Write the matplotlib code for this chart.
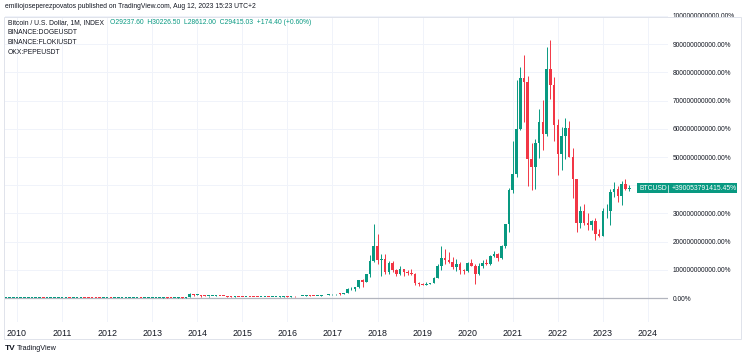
import matplotlib
matplotlib.use("Agg")
import matplotlib.pyplot as plt
from matplotlib.patches import Rectangle
import numpy as np

plt.rcParams['font.family'] = ['Liberation Sans', 'DejaVu Sans']

# ---------------- data (monthly BTC/USD INDEX, Oct 2009 .. Aug 2023) ----------------
start_year = 2009
start_month = 10
opens = [
    0.0000075, 0.0000075, 0.0008, 0.001, 0.001, 0.001, 0.003, 0.004, 0.005,
    0.05, 0.07, 0.06, 0.06, 0.19, 0.28,
    0.30, 0.52, 0.86, 0.78, 3.5, 8.74, 16.1, 13.4, 8.2, 5.1, 3.2, 3.0,
    4.7, 5.5, 4.9, 4.9, 5.0, 5.2, 6.7, 9.4, 10.2, 12.4, 11.2, 12.6,
    13.5, 20.4, 33.4, 93, 139, 129, 97, 106, 135, 133, 205, 1129,
    770, 830, 560, 445, 445, 630, 640, 585, 480, 385, 340, 378,
    320, 220, 255, 245, 236, 230, 263, 284, 230, 236, 315, 378,
    430, 370, 437, 416, 448, 530, 673, 624, 573, 608, 700, 745,
    963, 970, 1190, 1080, 1350, 2300, 2480, 2875, 4730, 4340, 6470, 10000,
    13850, 10100, 10300, 6900, 9240, 7490, 6390, 7730, 7030, 6630, 6370, 4040,
    3740, 3460, 3810, 4100, 5320, 8570, 10820, 10080, 9600, 8300, 9150, 7550,
    7190, 9350, 8540, 6410, 8630, 9450, 9140, 11350, 11650, 10780, 13800, 19700,
    28990, 33110, 45240, 58800, 57750, 37300, 35040, 41460, 47100, 43820, 61300, 57000,
    46300, 38480, 43190, 45540, 37700, 31800, 19950, 23300, 20050, 19430, 20500, 17170,
    16540, 23140, 23150, 28480, 29250, 27220, 30480, 29237.60,
]
highs = [
    0.0000075, 0.0008, 0.001, 0.001, 0.001, 0.003, 0.004, 0.005, 0.05,
    0.09, 0.07, 0.2, 0.2, 0.5, 0.3,
    0.95, 1.1, 0.95, 3.8, 8.7, 31.9, 16.1, 13.5, 8.9, 5.1, 3.5, 5.0,
    7.3, 6.2, 5.4, 5.4, 5.2, 6.7, 9.6, 16, 12.5, 12.9, 12.9, 13.9,
    21, 33.4, 95, 266, 140, 130, 110, 136, 146, 220, 1242, 1165,
    1000, 850, 720, 545, 630, 680, 650, 600, 500, 420, 460, 390,
    320, 265, 300, 260, 250, 265, 315, 285, 245, 335, 500, 470,
    460, 440, 440, 465, 550, 780, 700, 625, 630, 720, 760, 980,
    1160, 1200, 1300, 1350, 2760, 3000, 2920, 4750, 5000, 6470, 11400, 19800,
    17200, 11800, 11700, 9770, 9990, 7780, 8500, 7760, 7410, 7680, 6600, 4240,
    4100, 4200, 4120, 5640, 9090, 13880, 13200, 12330, 10950, 10370, 9510, 7750,
    9580, 10500, 9190, 9470, 10070, 10390, 11440, 12470, 12090, 14100, 19500, 29300,
    41950, 58350, 61780, 64900, 59500, 41330, 42400, 50500, 52900, 67000, 69000, 59100,
    47990, 45800, 48200, 47450, 40000, 31900, 24670, 25200, 22800, 20990, 21480, 18390,
    23950, 25250, 29190, 31000, 29840, 31390, 31800, 30226.50,
]
lows = [
    0.0000075, 0.0000075, 0.0008, 0.001, 0.001, 0.001, 0.003, 0.004, 0.005,
    0.05, 0.06, 0.06, 0.06, 0.19, 0.17,
    0.30, 0.8, 0.7, 0.56, 3.0, 7, 12.8, 6.2, 4.6, 2.0, 2.0, 2.8,
    4.7, 4.2, 4.6, 4.8, 4.9, 5.2, 6.5, 7.1, 10.2, 9.9, 10.4, 12.3,
    13.4, 19.1, 33, 50, 79, 88, 65, 101, 116, 103, 198, 455,
    770, 400, 440, 340, 430, 550, 570, 440, 370, 275, 315, 310,
    165, 210, 240, 215, 225, 215, 255, 195, 225, 235, 310, 350,
    350, 365, 400, 412, 440, 525, 605, 470, 570, 605, 680, 740,
    750, 920, 890, 1060, 1350, 2100, 1830, 2690, 2970, 4150, 5500, 9500,
    9000, 6000, 6500, 6430, 7030, 5760, 6070, 5880, 6150, 6200, 3600, 3130,
    3350, 3390, 3730, 4080, 5320, 7450, 9070, 9360, 7730, 7300, 6510, 6430,
    6850, 8450, 3860, 6150, 8100, 8830, 8900, 10960, 9880, 10380, 13240, 17600,
    28130, 32300, 45000, 47050, 30000, 28800, 29280, 37330, 39600, 43300, 53300, 42000,
    32900, 34300, 37200, 37700, 26700, 17600, 18780, 19600, 18150, 18200, 15480, 16260,
    16500, 21400, 19550, 26950, 25800, 24800, 28860, 28612.00,
]
closes = [
    0.0000075413, 0.0008, 0.001, 0.001, 0.001, 0.003, 0.004, 0.005, 0.05,
    0.07, 0.06, 0.06, 0.19, 0.28, 0.30,
    0.52, 0.86, 0.78, 3.5, 8.74, 16.1, 13.4, 8.2, 5.1, 3.2, 3.0, 4.7,
    5.5, 4.9, 4.9, 5.0, 5.2, 6.7, 9.4, 10.2, 12.4, 11.2, 12.6, 13.5,
    20.4, 33.4, 93, 139, 129, 97, 106, 135, 133, 205, 1129, 770,
    830, 560, 445, 445, 630, 640, 585, 480, 385, 340, 378, 320,
    220, 255, 245, 236, 230, 263, 284, 230, 236, 315, 378, 430,
    370, 437, 416, 448, 530, 673, 624, 573, 608, 700, 745, 963,
    970, 1190, 1080, 1350, 2300, 2480, 2875, 4730, 4340, 6470, 10000, 13850,
    10100, 10300, 6900, 9240, 7490, 6390, 7730, 7030, 6630, 6370, 4040, 3740,
    3460, 3810, 4100, 5320, 8570, 10820, 10080, 9600, 8300, 9150, 7550, 7190,
    9350, 8540, 6410, 8630, 9450, 9140, 11350, 11650, 10780, 13800, 19700, 28990,
    33110, 45240, 58800, 57750, 37300, 35040, 41460, 47100, 43820, 61300, 57000, 46300,
    38480, 43190, 45540, 37700, 31800, 19950, 23300, 20050, 19430, 20500, 17170, 16540,
    23140, 23150, 28480, 29250, 27220, 30480, 29240, 29415.03,
]
year_ticks = list(range(2010, 2025))
pct_ticks = [0, 1e11, 2e11, 3e11, 4e11, 5e11, 6e11, 7e11, 8e11, 9e11, 1e12]

header = "emiliojoseperezpovatos published on TradingView.com, Aug 12, 2023 15:23 UTC+2"
legend_title = "Bitcoin / U.S. Dollar, 1M, INDEX"
legend_ohlc = "O29237.60  H30226.50  L28612.00  C29415.03  +174.40 (+0.60%)"
other_symbols = ["BINANCE:DOGEUSDT", "BINANCE:FLOKIUSDT", "OKX:PEPEUSDT"]
last_label = "+390053791415.45%"

# ---------------- drawing ----------------
W, H = 745, 358
GREEN = '#089981'
RED = '#f23645'
TXT = '#131722'

def px(x, y):
    return x / W, 1 - y / H

fig = plt.figure(figsize=(W / 100, H / 100), dpi=100)
fig.patch.set_facecolor('white')
ax = fig.add_axes([5 / W, 1 - 322 / H, (668 - 5) / W, (322 - 16) / H])

base_price = closes[0]          # percentage scale is relative to the first bar's close
n = len(closes)
xs = np.array([start_year + (start_month - 1 + i) / 12 for i in range(n)])
o = (np.array(opens) / base_price - 1) * 100
h = (np.array(highs) / base_price - 1) * 100
l = (np.array(lows) / base_price - 1) * 100
c = (np.array(closes) / base_price - 1) * 100
up = c >= o
cols = np.where(up, GREEN, RED)

ax.vlines(xs, l, h, colors=cols, linewidth=0.7, zorder=3)
body_bottom = np.minimum(o, c)
body_h = np.maximum(np.abs(c - o), 0.03e11)
ax.bar(xs, body_h, bottom=body_bottom, width=0.058, color=cols,
       linewidth=0, zorder=4)

ax.axhline(0, color='#b2b5be', linewidth=0.9, zorder=2)

ax.set_xlim(2009.734, 2024.444)
ax.set_ylim(-0.851e11, 1.0e12)

ax.set_xticks(year_ticks)
ax.set_xticklabels([str(y) for y in year_ticks])
ax.set_yticks(pct_ticks)
ax.set_yticklabels([f"{v:.2f}%" for v in pct_ticks])
ax.yaxis.tick_right()
ax.tick_params(axis='y', length=0, pad=3.6, labelsize=4.8, colors=TXT)
ax.tick_params(axis='x', length=0, pad=5, labelsize=6.4, colors=TXT)
ax.grid(True, color='#f0f3fa', linewidth=0.7, zorder=0)
for s in ax.spines.values():
    s.set_visible(False)

# outer frame
x0, y0 = px(4, 339)
x1, y1 = px(741, 17)
fig.add_artist(Rectangle((x0, y0), x1 - x0, y1 - y0, transform=fig.transFigure,
                         fill=False, edgecolor='#e0e3eb', linewidth=0.7))

# header and legend
fig.text(*px(5, 7), header, fontsize=4.9, color=TXT, va='center', ha='left')
t1 = fig.text(*px(8, 23), legend_title, fontsize=4.9, color=TXT, va='center', ha='left')
fig.canvas.draw()
bb = t1.get_window_extent()
fig.text(bb.x1 / W + 6 / W, px(0, 23)[1], legend_ohlc, fontsize=4.9, color=GREEN,
         va='center', ha='left')
for i, s in enumerate(other_symbols):
    fig.text(*px(8, 33 + 10 * i), s, fontsize=4.9, color=TXT, va='center', ha='left')

# last price label
last_y = c[-1]
lab_y_fig = ax.transData.transform((0, last_y))[1] / H
bx0 = 637 / W
bx1 = 737 / W
bh = 10 / H
fig.add_artist(Rectangle((bx0, lab_y_fig - bh / 2), bx1 - bx0, bh, transform=fig.transFigure,
                         facecolor=GREEN, edgecolor='none', zorder=10))
fig.text(640 / W, lab_y_fig, "BTCUSD", fontsize=4.9, color='white', va='center',
         ha='left', zorder=11)
fig.add_artist(plt.Line2D([668 / W, 668 / W], [lab_y_fig - bh / 2 + 1.5 / H, lab_y_fig + bh / 2 - 1.5 / H],
                          transform=fig.transFigure, color='white', linewidth=0.5, zorder=11))
fig.text(672 / W, lab_y_fig, last_label, fontsize=4.9, color='white', va='center',
         ha='left', zorder=11)

# logo
fig.text(*px(5, 348), "TV", fontsize=6, fontweight='bold', color=TXT, va='center', ha='left')
fig.text(*px(17, 348), "TradingView", fontsize=5.2, color=TXT, va='center', ha='left')

fig.savefig('out.png', dpi=100, facecolor='white')
